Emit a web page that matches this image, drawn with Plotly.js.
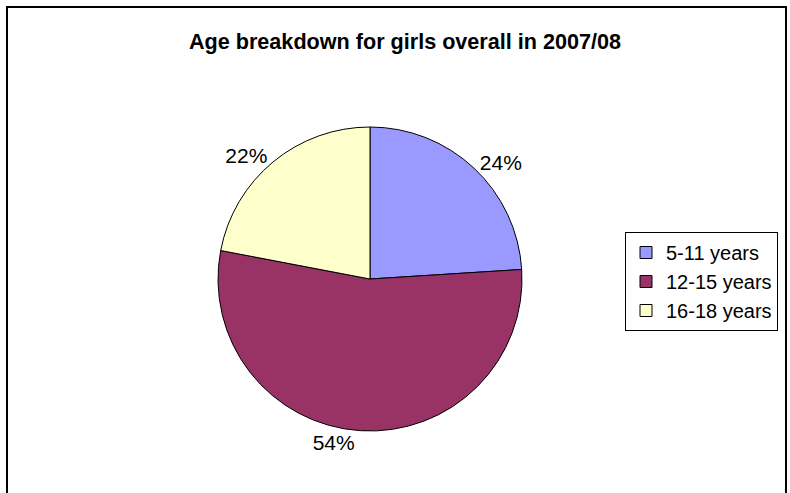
<!DOCTYPE html>
<html>
<head>
<meta charset="utf-8">
<script src="https://cdn.plot.ly/plotly-3.0.1.min.js"></script>
<style>html,body{margin:0;padding:0;background:#fff;}#chart{width:790px;height:493px;}</style>
</head>
<body>
<div id="chart"></div>
<script>
const categories = ["5-11 years", "12-15 years", "16-18 years"];
const shares = [24, 54, 22];
const sliceColors = ["#9999FF", "#993366", "#FFFFCC"];
const chartTitle = "Age breakdown for girls overall in 2007/08";

const W = 790, H = 493;
const cx = 370, cy = 279, r = 152;
const FONT = "Liberation Sans, Arial, sans-serif";

const data = [{
  type: "pie",
  labels: categories,
  values: shares,
  sort: false,
  direction: "clockwise",
  rotation: 0,
  marker: {colors: sliceColors, line: {color: "#000", width: 1}},
  textinfo: "percent",
  textposition: "outside",
  texttemplate: "%{percent:.0%}",
  outsidetextfont: {family: FONT, size: 21, color: "#000"},
  automargin: false,
  domain: {x: [(cx - r) / W, (cx + r) / W], y: [(H - cy - r) / H, (H - cy + r) / H]},
  hoverinfo: "label+percent"
}];

const layout = {
  width: W, height: H,
  margin: {l: 0, r: 0, t: 0, b: 0},
  paper_bgcolor: "#fff",
  font: {family: FONT, color: "#000"},
  title: {text: "<b>" + chartTitle + "</b>", font: {family: FONT, size: 21.6, color: "#000"}, x: 405 / W, xanchor: "center", y: 1 - 41 / H, yanchor: "middle", xref: "paper", yref: "paper"},
  showlegend: true,
  legend: {x: 625 / W, xanchor: "left", y: 1 - 232 / H, yanchor: "top", bordercolor: "#000", borderwidth: 1, bgcolor: "#fff", font: {family: FONT, size: 20, color: "#000"}, traceorder: "normal", itemwidth: 30},
  shapes: [{type: "rect", xref: "paper", yref: "paper", x0: 7 / W, x1: 786 / W, y0: -0.2, y1: 1 - 7 / H, line: {color: "#000", width: 2}, fillcolor: "rgba(0,0,0,0)"}]
};

Plotly.newPlot("chart", data, layout, {displayModeBar: false, staticPlot: true});
</script>
</body>
</html>
